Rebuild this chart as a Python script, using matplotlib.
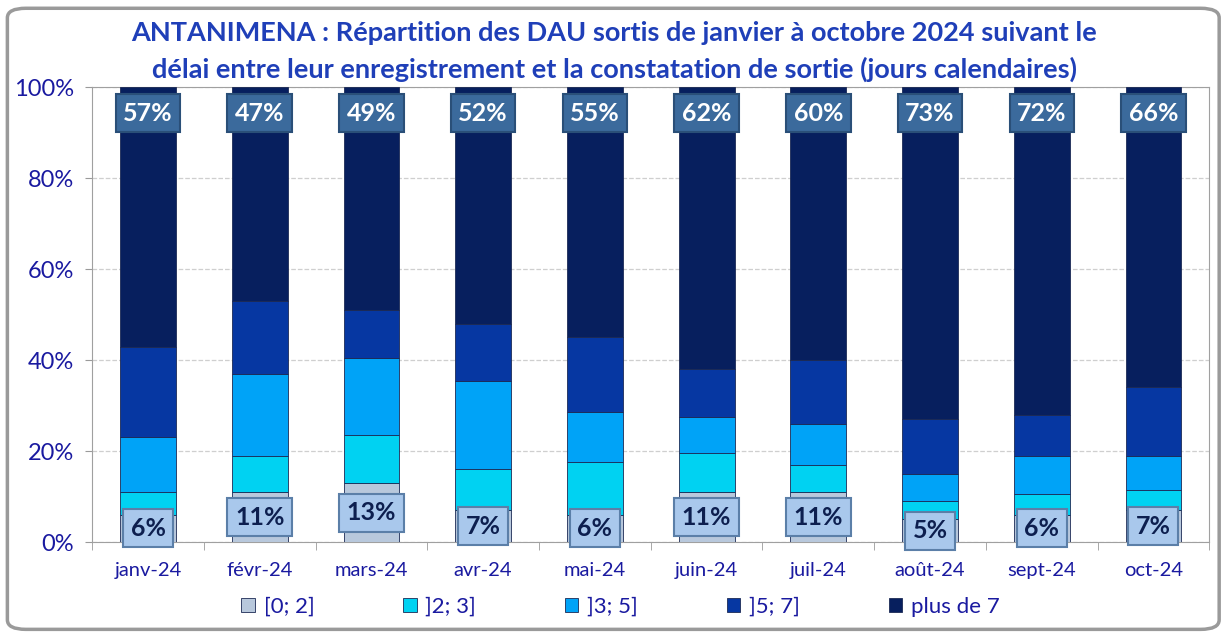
import matplotlib
matplotlib.use("Agg")
import matplotlib.pyplot as plt
import numpy as np
from matplotlib.patches import FancyBboxPatch

plt.rcParams['font.family'] = ['Lato', 'DejaVu Sans']

mois = ['janv-24', 'févr-24', 'mars-24', 'avr-24', 'mai-24',
        'juin-24', 'juil-24', 'août-24', 'sept-24', 'oct-24']
categories = ['[0; 2]', ']2; 3]', ']3; 5]', ']5; 7]', 'plus de 7']
# parts en % par tranche de délai
p_0_2 = [6, 11, 13, 7, 6, 11, 11, 5, 6, 7]
p_2_3 = [5, 8, 10.5, 9, 11.5, 8.5, 6, 4, 4.5, 4.5]
p_3_5 = [12, 18, 17, 19.5, 11, 8, 9, 6, 8.5, 7.5]
p_5_7 = [20, 16, 10.5, 12.5, 16.5, 10.5, 14, 12, 9, 15]
p_7_plus = [57, 47, 49, 52, 55, 62, 60, 73, 72, 66]

couleurs = ['#b8c8dc', '#00d2f2', '#00a3f7', '#0637a2', '#071f5e']
bleu = '#1a1aa0'

fig = plt.figure(figsize=(12.29, 6.37), dpi=100)
# cadre arrondi
cadre = FancyBboxPatch((0.006, 0.012), 0.986, 0.975, boxstyle="round,pad=0,rounding_size=0.015",
                       transform=fig.transFigure, facecolor='white', edgecolor='#9a9a9a',
                       linewidth=2.5, zorder=-1)
fig.patches.append(cadre)

ax = fig.add_axes([0.075, 0.149, 0.909, 0.714])
x = np.arange(len(mois))
series = [p_0_2, p_2_3, p_3_5, p_5_7, p_7_plus]
bas = np.zeros(len(mois))
for vals, nom, c in zip(series, categories, couleurs):
    v = np.array(vals, dtype=float)
    ax.bar(x, v, 0.5, bottom=bas, color=c, edgecolor='#1c2a55', linewidth=0.6,
           label=nom, zorder=3)
    bas += v

# étiquettes du bas ([0; 2])
for i, v in enumerate(p_0_2):
    ax.text(x[i], v / 2, f'{v}%', ha='center', va='center', fontsize=18, fontweight='bold',
            color='#0d1f4f', zorder=5,
            bbox=dict(boxstyle='square,pad=0.3', facecolor='#a9c8ec', edgecolor='#5b7fa8', linewidth=1.5))
# étiquettes du haut (plus de 7)
for i, v in enumerate(p_7_plus):
    ax.text(x[i], 94.3, f'{v}%', ha='center', va='center', fontsize=18, fontweight='bold',
            color='white', zorder=5,
            bbox=dict(boxstyle='square,pad=0.3', facecolor='#3b6a9c', edgecolor='#2a4f78', linewidth=1.5))

ax.set_xlim(-0.5, len(mois) - 0.5)
ax.set_ylim(0, 100)
ax.set_yticks(np.arange(0, 101, 20))
ax.set_yticklabels([f'{t}%' for t in range(0, 101, 20)], color=bleu, fontsize=17)
ax.set_xticks(x)
ax.set_xticklabels(mois, color=bleu, fontsize=14.5)
ax.set_xticks(np.arange(-0.5, len(mois), 1), minor=True)
ax.tick_params(axis='x', which='major', length=0, pad=14)
ax.tick_params(axis='x', which='minor', length=6, color='#9a9a9a')
ax.tick_params(axis='y', length=5, color='#9a9a9a', pad=8)
ax.grid(axis='y', linestyle='--', color='#cfcfcf', linewidth=0.9, zorder=0)
for s in ax.spines.values():
    s.set_color('#a0a0a0')

fig.text(0.5, 0.948, "ANTANIMENA : Répartition des DAU sortis de janvier à octobre 2024 suivant le",
         ha='center', va='center', fontsize=19.5, fontweight='bold', color='#1f3fb8')
fig.text(0.5, 0.891, "délai entre leur enregistrement et la constatation de sortie (jours calendaires)",
         ha='center', va='center', fontsize=19.5, fontweight='bold', color='#1f3fb8')

leg = fig.legend(loc='center', bbox_to_anchor=(0.505, 0.047), ncol=5, frameon=False,
                 fontsize=16, handlelength=0.6, handleheight=0.6, columnspacing=4.0,
                 handletextpad=0.4)
for t in leg.get_texts():
    t.set_color(bleu)

fig.savefig('out.png', dpi=100)
